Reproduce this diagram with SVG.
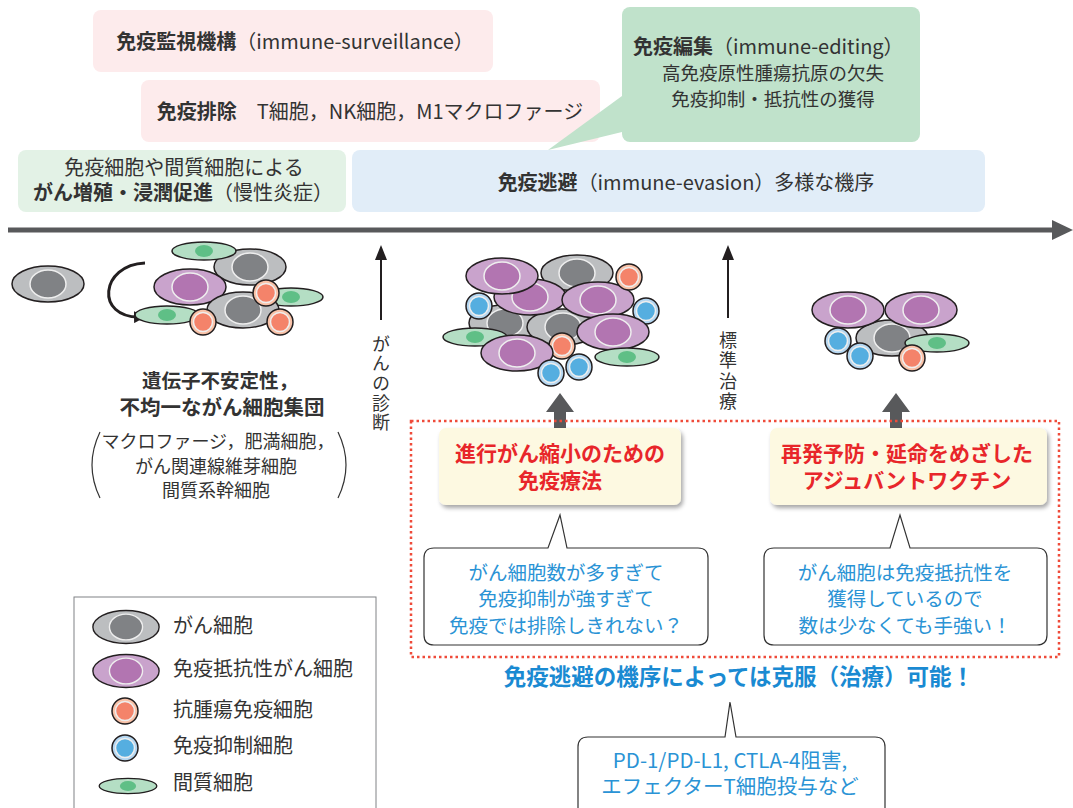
<svg xmlns="http://www.w3.org/2000/svg" width="1073" height="808" viewBox="0 0 1073 808">
  <defs>
    <style>
      text { font-family: "Noto Sans CJK JP", "Noto Sans", sans-serif; fill: #333; }
      .b { font-weight: bold; }
      .t20 { font-size: 20px; }
      .t18 { font-size: 18px; }
      .mid { text-anchor: middle; }
      .vert { writing-mode: vertical-rl; font-size: 18px; letter-spacing: 1.6px; }
      .red { fill: #e8262a; font-weight: bold; font-size: 21px; }
      .blue { fill: #2a93d5; font-size: 19.5px; }
      .cell { stroke: #231f20; stroke-width: 1.5; }
      .nuc { stroke: #eeeeee; stroke-width: 1.5; }
      .ca { fill: #bcbec0; } .ca-n { fill: #808285; }
      .pu { fill: #c9a3cc; } .pu-n { fill: #b275b1; }
      .or { fill: #f9c2a8; } .or-n { fill: #f4836a; }
      .bl { fill: #b5d7f1; } .bl-n { fill: #55aee0; }
      .gr { fill: #b4dec4; } .gr-n { fill: #5fbf86; }
      .callout { fill: #ffffff; stroke: #333; stroke-width: 1.2; }
      .uparrow { fill: #58595b; }
    </style>
    <!-- reusable cells, drawn around the origin -->
    <g id="cancer"><ellipse class="cell ca" rx="36" ry="18"/><ellipse class="nuc ca-n" rx="18" ry="14"/></g>
    <g id="resist"><ellipse class="cell pu" rx="36" ry="18"/><ellipse class="nuc pu-n" rx="18" ry="14"/></g>
    <g id="antitumor"><circle class="cell or" r="13"/><circle class="nuc or-n" r="9.5"/></g>
    <g id="suppress"><circle class="cell bl" r="13"/><circle class="nuc bl-n" r="9.5"/></g>
    <g id="stroma"><ellipse class="cell gr" rx="32" ry="9"/><ellipse class="gr-n" rx="9" ry="6"/></g>
    <marker id="blk" viewBox="0 0 10 10" refX="5" refY="5" markerWidth="4" markerHeight="4" orient="auto">
      <path d="M0,0 L10,5 L0,10 z" fill="#231f20"/>
    </marker>
    <filter id="shadow" x="-10%" y="-10%" width="125%" height="135%">
      <feDropShadow dx="2" dy="3" stdDeviation="2" flood-color="#000" flood-opacity="0.35"/>
    </filter>
  </defs>

  <!-- phase boxes -->
  <g id="surveillance">
    <rect x="93" y="10" width="400" height="62" rx="8" fill="#fdebec"/>
    <text x="295" y="49" class="mid t20"><tspan class="b">免疫監視機構</tspan>（immune-surveillance）</text>
  </g>
  <g id="elimination">
    <rect x="141" y="80" width="459" height="62" rx="8" fill="#fdebec"/>
    <text x="370" y="119" class="mid t20"><tspan class="b">免疫排除</tspan>　T細胞，NK細胞，M1マクロファージ</text>
  </g>
  <g id="inflammation">
    <rect x="18" y="150" width="328" height="62" rx="8" fill="#e3f2e6"/>
    <text x="184" y="175" class="mid t20">免疫細胞や間質細胞による</text>
    <text x="183" y="200" class="mid t20"><tspan class="b">がん増殖・浸潤促進</tspan>（慢性炎症）</text>
  </g>
  <g id="evasion">
    <rect x="352" y="150" width="633" height="62" rx="8" fill="#e1edf8"/>
    <text x="686" y="190" class="mid t20"><tspan class="b">免疫逃避</tspan>（immune-evasion）多様な機序</text>
  </g>
  <g id="editing">
    <polygon points="622,96 622,132 548,150" fill="#c0e2cb"/>
    <rect x="622" y="7" width="298" height="135" rx="8" fill="#c0e2cb"/>
    <text x="633" y="54" class="t20"><tspan class="b">免疫編集</tspan>（immune-editing）</text>
    <text x="773" y="80" class="mid" style="font-size:18.5px">高免疫原性腫瘍抗原の欠失</text>
    <text x="773" y="106" class="mid" style="font-size:18.5px">免疫抑制・抵抗性の獲得</text>
  </g>

  <!-- time axis and event arrows -->
  <g id="connectors">
    <line x1="8" y1="230" x2="1056" y2="230" stroke="#58595b" stroke-width="5"/>
    <polygon points="1052,220 1073,230 1052,240" fill="#58595b"/>
    <line x1="381" y1="320" x2="381" y2="258" stroke="#231f20" stroke-width="2"/>
    <polygon points="375,260 381,245 387,260" fill="#231f20"/>
    <line x1="728" y1="318" x2="728" y2="258" stroke="#231f20" stroke-width="2"/>
    <polygon points="722,260 728,245 734,260" fill="#231f20"/>
    <path d="M145,263 C100,265 95,318 140,317" fill="none" stroke="#231f20" stroke-width="3" marker-end="url(#blk)"/>
    <!-- block arrows from therapies to tumours -->
    <polygon class="uparrow" points="554,432 554,412 546,412 560,393 574,412 566,412 566,432"/>
    <polygon class="uparrow" points="890,432 890,412 882,412 896,393 910,412 902,412 902,432"/>
  </g>

  <!-- vertical event labels -->
  <g id="diagnosis-label">
    <text x="381" y="335" class="vert">がんの診断</text>
  </g>
  <g id="standard-label">
    <text x="728" y="331" class="vert" style="letter-spacing:2.5px">標準治療</text>
  </g>

  <!-- early tumour: single cancer cell becoming a mixed population -->
  <g id="early-tumour">
    <use href="#cancer" x="48" y="284"/>
    <use href="#cancer" x="250" y="267"/>
    <use href="#stroma" x="204" y="251"/>
    <use href="#resist" x="190" y="287"/>
    <use href="#stroma" x="291" y="297"/>
    <use href="#cancer" x="243" y="310"/>
    <use href="#stroma" x="167" y="315"/>
    <use href="#antitumor" x="266" y="293"/>
    <use href="#antitumor" x="203" y="322"/>
    <use href="#antitumor" x="280" y="322"/>
  </g>

  <g id="early-caption">
    <text x="220" y="388" class="mid b" style="font-size:19.5px">遺伝子不安定性，</text>
    <text x="222" y="415" class="mid b" style="font-size:20.5px">不均一ながん細胞集団</text>
    <text x="218" y="448" class="mid t18">マクロファージ，肥満細胞，</text>
    <text x="216" y="473" class="mid t18">がん関連線維芽細胞</text>
    <text x="216" y="497" class="mid t18">間質系幹細胞</text>
    <path d="M100,432 Q84,465 100,498" fill="none" stroke="#333" stroke-width="1.2"/>
    <path d="M338,432 Q354,465 338,498" fill="none" stroke="#333" stroke-width="1.2"/>
  </g>

  <!-- advanced tumour at diagnosis -->
  <g id="advanced-tumour">
    <use href="#cancer" x="577" y="273"/>
    <use href="#cancer" x="505" y="323"/>
    <use href="#cancer" x="563" y="327"/>
    <use href="#resist" x="530" y="297"/>
    <use href="#resist" x="502" y="276"/>
    <use href="#resist" x="598" y="300"/>
    <use href="#antitumor" x="629" y="277"/>
    <use href="#suppress" x="479" y="306"/>
    <use href="#suppress" x="646" y="311"/>
    <use href="#resist" x="613" y="332"/>
    <use href="#stroma" x="475" y="337"/>
    <use href="#antitumor" x="562" y="346"/>
    <use href="#resist" x="517" y="353"/>
    <use href="#stroma" x="627" y="357"/>
    <use href="#suppress" x="551" y="373"/>
    <use href="#suppress" x="579" y="367"/>
  </g>

  <!-- residual tumour after standard therapy -->
  <g id="residual-tumour">
    <use href="#cancer" x="892" y="338"/>
    <use href="#resist" x="848" y="310"/>
    <use href="#resist" x="921" y="310"/>
    <use href="#stroma" x="937" y="343"/>
    <use href="#suppress" x="838" y="341"/>
    <use href="#suppress" x="860" y="356"/>
    <use href="#antitumor" x="912" y="358"/>
  </g>

  <!-- immunotherapy region -->
  <g id="therapy-frame">
    <rect x="411" y="421" width="648" height="236" fill="none" stroke="#ef4b3a" stroke-width="2.5" stroke-dasharray="2.5 3"/>
  </g>
  <g id="immunotherapy">
    <rect x="439" y="428" width="242" height="77" rx="7" fill="#fdf9e1" filter="url(#shadow)"/>
    <text x="560" y="461" class="mid red">進行がん縮小のための</text>
    <text x="560" y="488" class="mid red">免疫療法</text>
  </g>
  <g id="adjuvant-vaccine">
    <rect x="770" y="428" width="277" height="77" rx="7" fill="#fdf9e1" filter="url(#shadow)"/>
    <text x="907" y="461" class="mid red">再発予防・延命をめざした</text>
    <text x="907" y="488" class="mid red">アジュバントワクチン</text>
  </g>
  <g id="note-left">
    <path class="callout" d="M434,548 H548 L560,515 L567,548 H698 Q708,548 708,558 V635 Q708,645 698,645 H434 Q424,645 424,635 V558 Q424,548 434,548 Z"/>
    <text x="566" y="580" class="mid blue">がん細胞数が多すぎて</text>
    <text x="566" y="606" class="mid blue">免疫抑制が強すぎて</text>
    <text x="566" y="633" class="mid blue">免疫では排除しきれない？</text>
  </g>
  <g id="note-right">
    <path class="callout" d="M774,548 H890 L900,515 L910,548 H1037 Q1047,548 1047,558 V635 Q1047,645 1037,645 H774 Q764,645 764,635 V558 Q764,548 774,548 Z"/>
    <text x="905" y="580" class="mid blue">がん細胞は免疫抵抗性を</text>
    <text x="905" y="606" class="mid blue">獲得しているので</text>
    <text x="905" y="633" class="mid blue">数は少なくても手強い！</text>
  </g>
  <g id="conclusion">
    <text x="739" y="685" class="mid b" style="font-size:22.5px; fill:#1a8ad2">免疫逃避の機序によっては克服（治療）可能！</text>
  </g>
  <g id="note-bottom">
    <path class="callout" d="M578,812 V747 Q578,737 588,737 H725 L730,702 L736,737 H875 Q885,737 885,747 V812"/>
    <text x="730" y="768" class="mid blue" style="font-size:20.5px">PD-1/PD-L1, CTLA-4阻害,</text>
    <text x="730" y="794" class="mid blue" style="font-size:20.5px">エフェクターT細胞投与など</text>
  </g>

  <!-- legend -->
  <g id="legend">
    <rect x="74" y="597" width="302" height="220" fill="#ffffff" stroke="#808285" stroke-width="1"/>
    <use href="#cancer" x="126" y="627" transform="translate(126 627) scale(0.92) translate(-126 -627)"/>
    <text x="173" y="633" class="t20">がん細胞</text>
    <use href="#resist" x="126" y="671" transform="translate(126 671) scale(0.92) translate(-126 -671)"/>
    <text x="173" y="676" class="t20">免疫抵抗性がん細胞</text>
    <use href="#antitumor" x="125" y="711"/>
    <text x="173" y="717" class="t20">抗腫瘍免疫細胞</text>
    <use href="#suppress" x="125" y="748"/>
    <text x="173" y="753" class="t20">免疫抑制細胞</text>
    <use href="#stroma" x="128" y="786" transform="translate(128 786) scale(0.9 0.85) translate(-128 -786)"/>
    <text x="173" y="790" class="t20">間質細胞</text>
  </g>
</svg>
